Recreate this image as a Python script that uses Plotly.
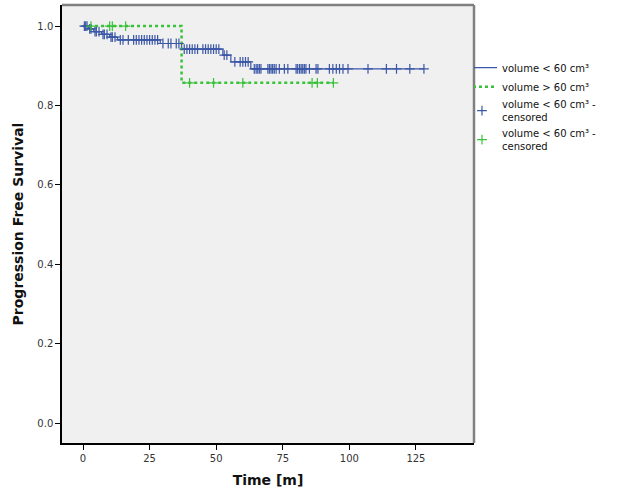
import plotly.graph_objects as go
import numpy as np

# Kaplan-Meier step data
blue_t = [0, 2, 4, 7, 10, 13, 29, 37, 52.5, 55.5, 63, 128]
blue_s = [1.0, 0.993, 0.986, 0.979, 0.972, 0.965, 0.956, 0.942, 0.927, 0.910, 0.892, 0.892]
green_t = [0, 37, 94]
green_s = [1.0, 0.857, 0.857]

# censored observation times
blue_cens = [0.5, 1, 1.5, 2.5, 3, 4.5, 5, 6, 7.5, 8, 9, 10.5, 11, 12,
             14, 15, 17, 19, 20, 21, 22, 23, 24, 25, 26, 27, 28,
             30, 32, 33, 35, 36,
             38, 39, 40, 41, 42, 43, 45, 46, 47, 48, 49, 50, 51,
             53, 54, 57, 59, 60, 61, 62,
             64.3, 65, 65.6, 66.2, 66.8, 69.4, 70, 70.6, 71.2, 71.8, 72.5, 73.7,
             75.6, 76.9, 80, 80.6, 81.3, 81.9, 82.5, 83.1, 83.7, 85, 87.5, 88.2,
             92.5, 93.8, 95.1, 96.3, 97.6, 99.5, 107, 113.9, 117.7, 122.7, 128]
green_cens = [3, 10, 11, 16, 40, 49, 60, 86, 88, 94]

x_ticks = [0, 25, 50, 75, 100, 125]
y_ticks = [0.0, 0.2, 0.4, 0.6, 0.8, 1.0]

def step_value(ts, ss, t):
    idx = np.searchsorted(np.array(ts), t, side="right") - 1
    return ss[max(idx, 0)]

blue_cens_y = [step_value(blue_t, blue_s, t) for t in blue_cens]
green_cens_y = [step_value(green_t, green_s, t) for t in green_cens]

BLUE = "#3B57A7"
GREEN = "#39C239"

fig = go.Figure()
fig.add_trace(go.Scatter(x=blue_t, y=blue_s, mode="lines", line_shape="hv",
                         line=dict(color=BLUE, width=1.2),
                         name="volume < 60 cm³"))
fig.add_trace(go.Scatter(x=green_t, y=green_s, mode="lines", line_shape="hv",
                         line=dict(color=GREEN, width=2.5, dash="dot"),
                         name="volume > 60 cm³"))
fig.add_trace(go.Scatter(x=blue_cens, y=blue_cens_y, mode="markers",
                         marker=dict(symbol="cross-thin", size=7,
                                     line=dict(color=BLUE, width=1.2)),
                         name="volume < 60 cm³ -<br>censored"))
fig.add_trace(go.Scatter(x=green_cens, y=green_cens_y, mode="markers",
                         marker=dict(symbol="cross-thin", size=7,
                                     line=dict(color=GREEN, width=1.2)),
                         name="volume < 60 cm³ -<br>censored"))

fig.update_layout(
    width=626, height=501,
    margin=dict(l=62, r=152, t=5, b=58),
    paper_bgcolor="white",
    plot_bgcolor="#F0F0F0",
    font=dict(family="DejaVu Sans", color="#222222"),
    showlegend=True,
    legend=dict(x=1.0, xanchor="left", y=0.89, yanchor="top",
                bgcolor="rgba(0,0,0,0)", font=dict(size=10, color="#111111"),
                itemwidth=30, tracegroupgap=0, indentation=-12),
    xaxis=dict(range=[-7.9, 146.8], tickvals=x_ticks,
               ticktext=[str(v) for v in x_ticks],
               showgrid=False, zeroline=False, automargin=False,
               showline=True, linecolor="black", linewidth=1.5,
               ticks="outside", ticklen=5, tickcolor="black",
               tickfont=dict(size=10, color="#333333"),
               title=dict(text="<b>Time [m]</b>", font=dict(size=14, color="#111111"),
                          standoff=12)),
    yaxis=dict(range=[-0.05, 1.053], tickvals=y_ticks,
               ticktext=[f"{v:.1f}" for v in y_ticks],
               showgrid=False, zeroline=False, automargin=False,
               showline=True, linecolor="black", linewidth=1.5,
               ticks="outside", ticklen=5, tickcolor="black",
               tickfont=dict(size=10, color="#333333"),
               title=dict(text="<b>Progression Free Survival</b>",
                          font=dict(size=14, color="#111111"), standoff=10)),
    shapes=[
        dict(type="line", xref="paper", yref="paper", x0=0, x1=1, y0=1, y1=1,
             line=dict(color="#808080", width=2.5)),
        dict(type="line", xref="paper", yref="paper", x0=1, x1=1, y0=0, y1=1,
             line=dict(color="#808080", width=2.5)),
    ],
)

fig.write_html("out.html", config={"displayModeBar": False},
               post_script="document.body.style.margin='0';")
